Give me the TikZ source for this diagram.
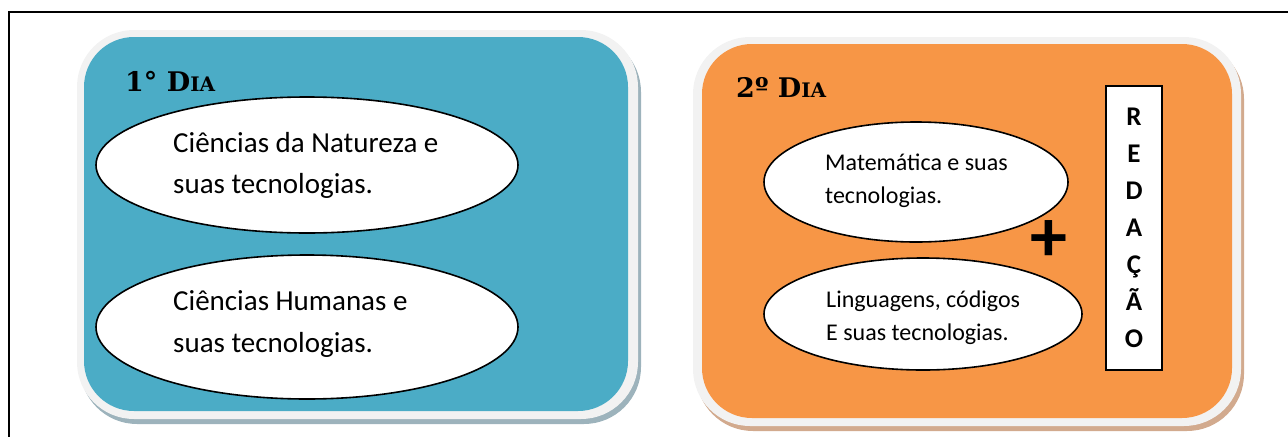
\documentclass[tikz,border=0pt]{standalone}
\usepackage{fontspec}
\setmainfont{Carlito}
\newfontfamily\titlefont{DejaVu Serif}
\usetikzlibrary{shapes.geometric}

\definecolor{panelblue}{HTML}{4BACC6}
\definecolor{panelorange}{HTML}{F79646}
\definecolor{ringgray}{HTML}{F2F2F2}
\definecolor{shadowblue}{HTML}{9DB3BC}
\definecolor{shadoworange}{HTML}{D2AA8E}

\begin{document}
\begin{tikzpicture}[x=1pt,y=-1pt,
  bubble/.style={ellipse, draw=black, fill=white, line width=1.6pt, inner sep=0pt},
  bodytext/.style={anchor=base west, inner sep=0pt, font=\fontsize{29}{29}\selectfont},
  smalltext/.style={anchor=base west, inner sep=0pt, font=\fontsize{24}{24}\selectfont},
  daytitle/.style={anchor=base west, inner sep=0pt, font=\titlefont\bfseries},
  essaybox/.style={draw=black, fill=white, line width=1.6pt, inner sep=0pt,
    minimum width=56pt, minimum height=284pt, align=center,
    font=\fontsize{27}{37}\selectfont\bfseries}
]
\useasboundingbox (0,0) rectangle (1288,437);

% page frame (top and left rules)
\draw[line width=2pt] (1288,12) -- (9,12) -- (9,437);

% ---- first day panel ----
\fill[shadowblue, rounded corners=57pt] (80,35) rectangle (641,424);
\fill[ringgray, rounded corners=57pt] (77,30) rectangle (638,419);
\fill[panelblue, rounded corners=50pt] (84,37) rectangle (628,411);

\node[daytitle] (d1) at (125,91)
  {{\fontsize{27}{27}\selectfont 1° D}{\fontsize{20}{20}\selectfont IA}};

\node[bubble, minimum width=422pt, minimum height=136pt] (nat) at (307,165) {};
\node[bodytext] (nat1) at (173,152) {Ciências da Natureza e};
\node[bodytext] (nat2) at (173,193) {suas tecnologias.};

\node[bubble, minimum width=422pt, minimum height=144pt] (hum) at (307,327) {};
\node[bodytext] (hum1) at (173,310) {Ciências Humanas e};
\node[bodytext] (hum2) at (173,352) {suas tecnologias.};

% ---- second day panel ----
\fill[shadoworange, rounded corners=57pt] (696,42) rectangle (1244,431);
\fill[ringgray, rounded corners=57pt] (693,37) rectangle (1241,426);
\fill[panelorange, rounded corners=50pt] (702,44) rectangle (1232,418);

\node[daytitle] (d2) at (736,97)
  {{\fontsize{27}{27}\selectfont 2º D}{\fontsize{20}{20}\selectfont IA}};

\node[bubble, minimum width=304pt, minimum height=120pt] (mat) at (916,182) {};
\node[smalltext] (mat1) at (825,170) {Matemática e suas};
\node[smalltext] (mat2) at (825,203) {tecnologias.};

\node[bubble, minimum width=318pt, minimum height=112pt] (lin) at (923,314) {};
\node[smalltext] (lin1) at (826,307) {Linguagens, códigos};
\node[smalltext] (lin2) at (826,340) {E suas tecnologias.};

\node[inner sep=0pt, font=\fontsize{74}{74}\selectfont\bfseries] (plus) at (1049,241) {+};

\node[essaybox] (essay) at (1134,228) {R\\E\\D\\A\\Ç\\Ã\\O};
\end{tikzpicture}
\end{document}
